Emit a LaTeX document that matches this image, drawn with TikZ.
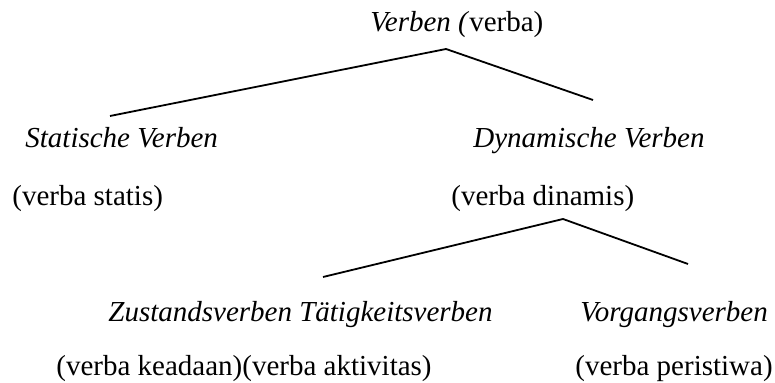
\documentclass[tikz,border=0pt]{standalone}
\usepackage{fontspec}
\setmainfont{Liberation Serif}
\usetikzlibrary{positioning}
\tikzset{
    x=0.5pt,y=0.5pt,
    term/.style ={anchor=base west, inner sep=0pt, font=\fontsize{14.5}{17}\selectfont\itshape},
    gloss/.style ={anchor=base west, inner sep=0pt, font=\fontsize{14.5}{17}\selectfont},
    branch/.style={line width=0.9pt}
}

\begin{document}
\begin{tikzpicture}
        \useasboundingbox (0,0) rectangle (775,-383);

        \node[gloss] (verben) at (370,-32) {\textit{Verben (}verba)};
        \node[term] (statisch) at (25,-148) {Statische Verben};
        \node[gloss] (statis) at (12,-206) {(verba statis)};
        \node[term] (dynamisch) at (473,-148) {Dynamische Verben};
        \node[gloss] (dinamis) at (451,-206) {(verba dinamis)};
        \node[term] (zustand) at (108,-322) {Zustandsverben Tätigkeitsverben};
        \node[gloss] (keadaan) at (56,-376) {(verba keadaan)(verba aktivitas)};
        \node[term] (vorgang) at (580,-322) {Vorgangsverben};
        \node[gloss] (peristiwa) at (575,-376) {(verba peristiwa)};

        % fork points of the branches
        \coordinate (verben-fork) at (446,-49);
        \coordinate (statisch-fork) at (110,-116);
        \coordinate (dynamisch-fork) at (593,-100);
        \coordinate (dinamis-fork) at (563,-219);
        \coordinate (zustand-fork) at (323,-277);
        \coordinate (vorgang-fork) at (688,-264);

        \draw[branch] (statisch-fork) -- (verben-fork) -- (dynamisch-fork);
        \draw[branch] (zustand-fork) -- (dinamis-fork) -- (vorgang-fork);
    \end{tikzpicture}
\end{document}
